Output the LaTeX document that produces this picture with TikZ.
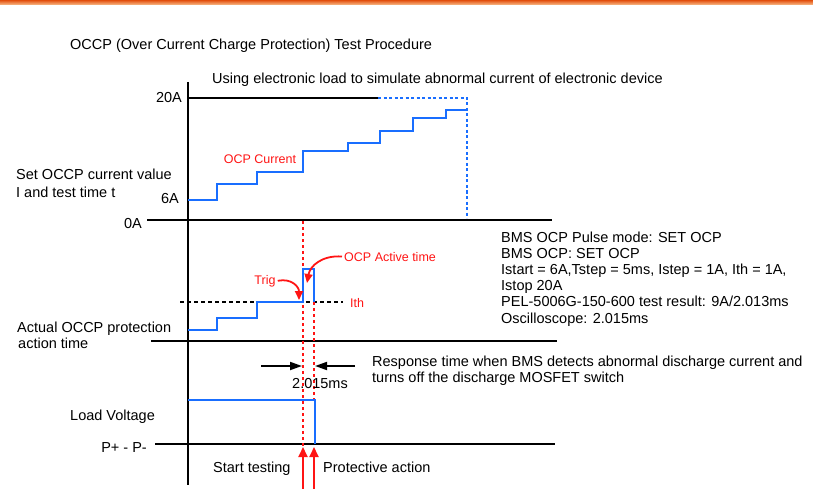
\documentclass[tikz,border=0pt]{standalone}
\usepackage{fontspec}
\setmainfont{Liberation Sans}
\usetikzlibrary{arrows.meta}
\definecolor{cblue}{RGB}{25,110,255}
\definecolor{cred}{RGB}{255,20,20}
\definecolor{orA}{RGB}{226,78,12}
\definecolor{orB}{RGB}{250,190,140}
\begin{document}
\begin{tikzpicture}[x=1pt,y=-1pt,
  every node/.style={inner sep=0pt,font=\fontsize{14.5}{16.2}\selectfont},
  lbl/.style={anchor=base west},
  lblr/.style={anchor=base east},
  rlbl/.style={text=cred,font=\fontsize{12.5}{14}\selectfont},
  axisline/.style={line width=1.8pt,black},
  sig/.style={line width=2pt,cblue,line join=miter},
  bdash/.style={line width=1.8pt,cblue,dash pattern=on 3pt off 2.5pt},
  rdash/.style={line width=1.6pt,cred,dash pattern=on 3pt off 3pt},
  kdash/.style={line width=1.5pt,black,dash pattern=on 4pt off 3pt},
  dimarr/.style={line width=1.8pt,black,-{Triangle[length=12pt,width=8pt]}},
  rarr/.style={line width=1.8pt,cred,-{Triangle[length=10pt,width=9pt]}},
  carr/.style={line width=1.8pt,cred,-{Triangle[length=9pt,width=8pt]}}
]
\useasboundingbox (0,0) rectangle (813,489);
% top bar
\shade[top color=orA,bottom color=orB] (0,0) rectangle (813,5);

% named coordinates
\coordinate (axT) at (188,82);
\coordinate (axB) at (188,485);
\coordinate (l20a) at (188,98);
\coordinate (l20b) at (378,98);
\coordinate (l20c) at (467,98);
\coordinate (l20d) at (467,218);
\coordinate (l0a) at (147,220);
\coordinate (l0b) at (552,220);
\coordinate (lma) at (151,341);
\coordinate (lmb) at (557,341);
\coordinate (lpa) at (155,444);
\coordinate (lpb) at (555,444);
\coordinate (itha) at (180,302);
\coordinate (ithb) at (343,302);
\coordinate (rd1a) at (303,221);
\coordinate (rd1b) at (303,448);
\coordinate (rd2a) at (314,302);
\coordinate (rd2b) at (314,400);
\coordinate (da1) at (261,366);
\coordinate (da2) at (302,366);
\coordinate (db1) at (355,366);
\coordinate (db2) at (315,366);
\coordinate (ra1) at (303,489);
\coordinate (ra2) at (303,447);
\coordinate (rb1) at (314,489);
\coordinate (rb2) at (314,447);

% axes
\draw[axisline] (axT) -- (axB);
\draw[axisline] (l20a) -- (l20b);
\draw[bdash] (l20b) -- (l20c) -- (l20d);
\draw[axisline] (l0a) -- (l0b);
\draw[axisline] (lma) -- (lmb);
\draw[axisline] (lpa) -- (lpb);

% OCP current staircase
\draw[sig] (188,200) -| (217,184) -| (257,172) -| (303,151) -| (348,143)
  -| (380,131) -| (413,118) -| (446,110) -- (466,110);

% protection staircase
\draw[kdash] (itha) -- (ithb);
\draw[rdash] (rd1a) -- (rd1b);
\draw[rdash] (rd2a) -- (rd2b);
\draw[sig] (188,330) -| (217,318) -| (257,302) -| (303,269) -| (314,302);

% load voltage
\draw[sig] (188,400) -| (315,444);

% dimension arrows
\draw[dimarr] (da1) -- (da2);
\draw[dimarr] (db1) -- (db2);

% bottom red arrows
\draw[rarr] (ra1) -- (ra2);
\draw[rarr] (rb1) -- (rb2);

% texts
\node[lbl] (title) at (70,50) {OCCP (Over Current Charge Protection) Test Procedure};
\node[lbl] (using) at (212,84) {Using electronic load to simulate abnormal current of electronic device};
\node[lblr] (a20) at (182,103) {20A};
\node[lbl] (set1) at (16,179) {Set OCCP current value};
\node[lbl] (set2) at (16,197) {I and test time t};
\node[lblr] (a6) at (179,203) {6A};
\node[lblr] (a0) at (142,228) {0A};
\node[rlbl,anchor=base] (ocpc) at (260,164) {OCP Current};
\node[lbl] (bms1) at (501,242) {BMS OCP Pulse mode: SET OCP};
\node[lbl] (bms2) at (501,258.2) {BMS OCP: SET OCP};
\node[lbl] (bms3) at (501,274.4) {Istart = 6A,Tstep = 5ms, Istep = 1A, Ith = 1A,};
\node[lbl] (bms4) at (501,290.6) {Istop 20A};
\node[lbl] (bms5) at (501,306.8) {PEL-5006G-150-600 test result: 9A/2.013ms};
\node[lbl] (bms6) at (501,323) {Oscilloscope: 2.015ms};
\node[rlbl,anchor=base] (trig) at (265,284) {Trig};
\node[rlbl,anchor=base west] (oat) at (344,261) {OCP Active time};
\node[rlbl,anchor=base west] (ith) at (350,307) {Ith};
\node[lbl] (act1) at (17,332) {Actual OCCP protection};
\node[lbl] (act2) at (18,348) {action time};
\node[lbl] (resp1) at (372,366) {Response time when BMS detects abnormal discharge current and};
\node[lbl] (resp2) at (372,382) {turns off the discharge MOSFET switch};
\node[lbl] (ms) at (292,388) {2.015ms};
\node[lbl] (lv) at (70,420) {Load Voltage};
\node[lblr] (pp) at (147,452) {P+ - P-};
\node[lbl] (st) at (213,472) {Start testing};
\node[lbl] (pa) at (323,472) {Protective action};

% curved red arrows
\draw[carr] ([xshift=2pt]trig.east) .. controls (292,278) and (299,287) .. (299,300);
\draw[carr] ([xshift=-2pt,yshift=0pt]oat.west) .. controls (322,255) and (310,266) .. (307,283);
\end{tikzpicture}
\end{document}
